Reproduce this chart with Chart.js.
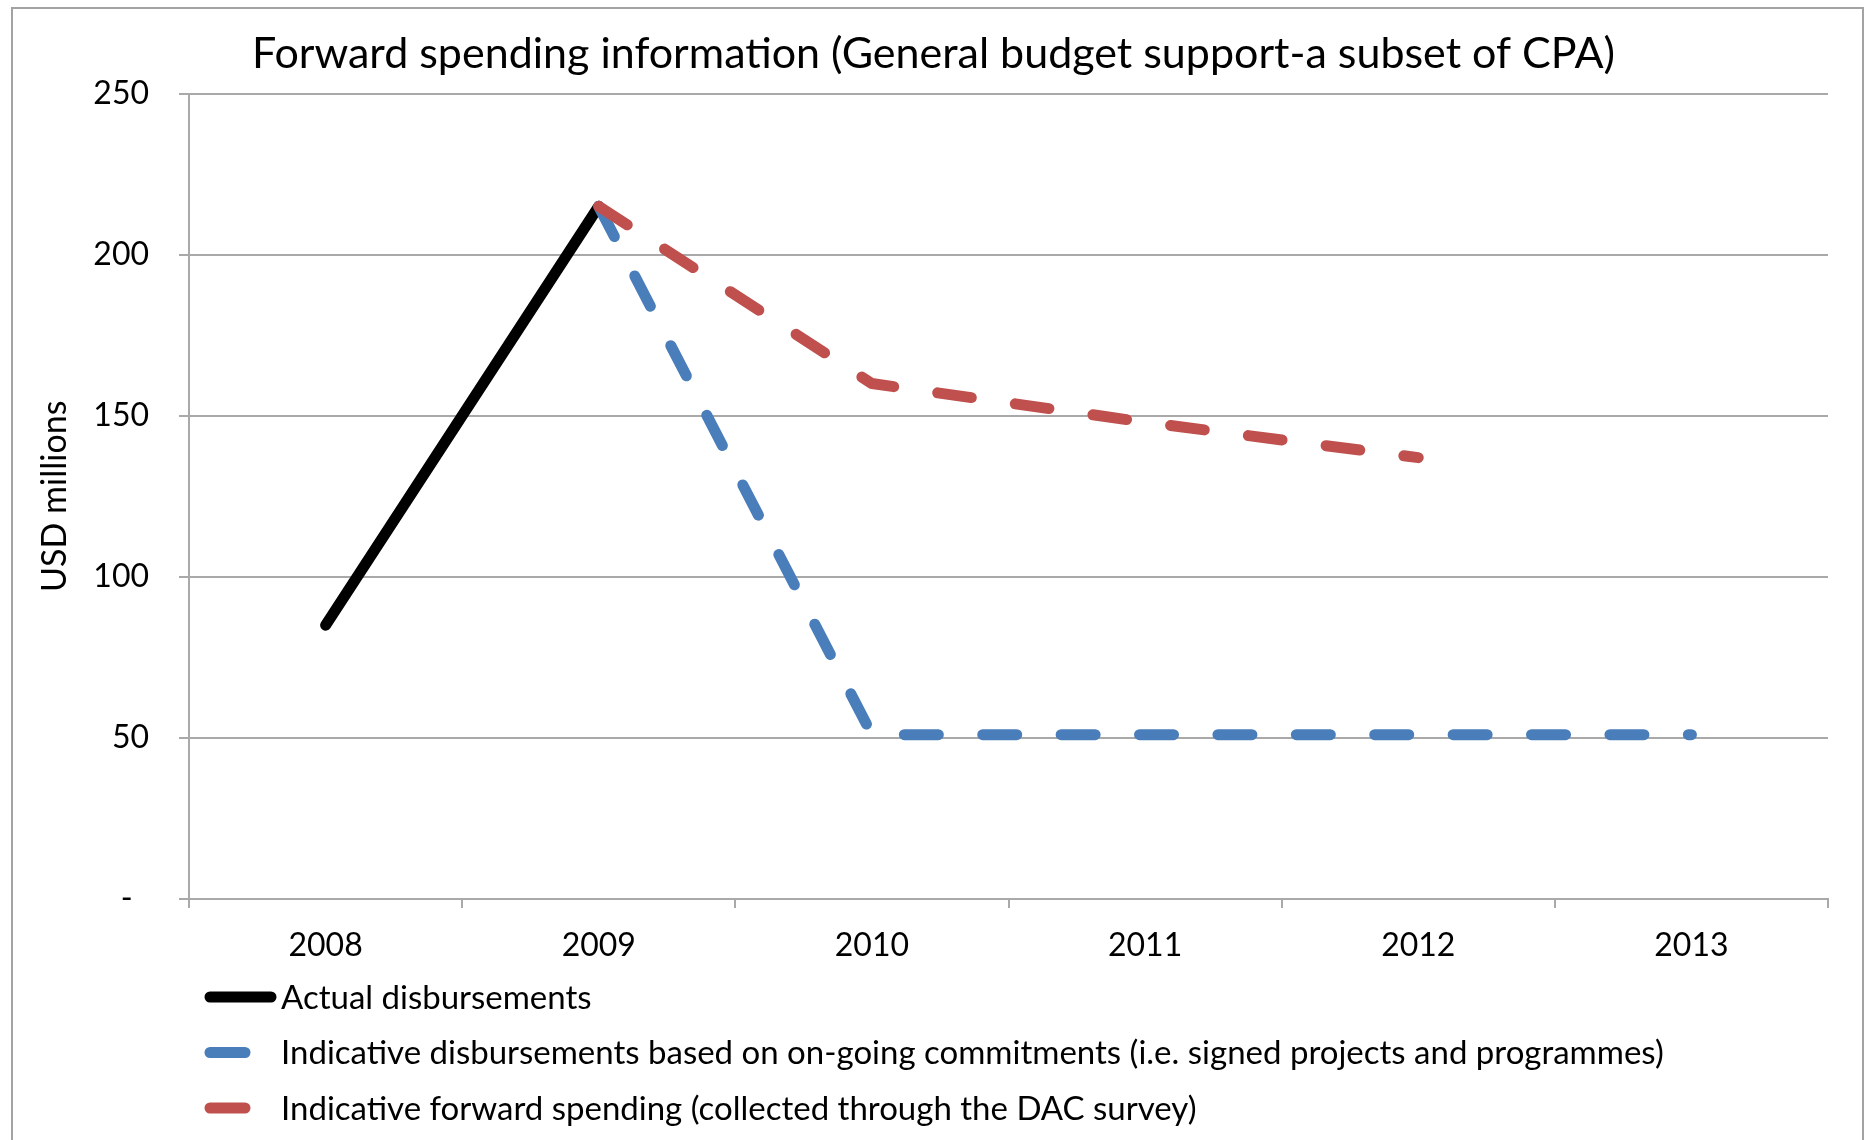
<!DOCTYPE html>
<html>
<head>
<meta charset="utf-8">
<title>Forward spending information</title>
<script src="https://cdn.jsdelivr.net/npm/chart.js@4/dist/chart.umd.min.js"></script>
<style>
  html, body { margin: 0; padding: 0; background: #ffffff; }
  #wrap { width: 1867px; height: 1140px; position: relative; }
</style>
</head>
<body>
<div id="wrap"><canvas id="chart" width="1867" height="1140"></canvas></div>
<script>
// Years on the category axis
const years = ['2008', '2009', '2010', '2011', '2012', '2013'];

// Series values, USD millions
const actualDisbursements = [85, 215, null, null, null, null];
const ongoingCommitments  = [null, 215, 51, 51, 51, 51];
const forwardSpending     = [null, 215, 160, 148, 137, null];

// Series names
const seriesNames = [
  'Actual disbursements',
  'Indicative disbursements based on on-going commitments (i.e. signed projects and programmes)',
  'Indicative forward spending (collected through the DAC survey)'
];

// Value axis ticks; zero is written as a dash (accounting style, padded on the right)
const yTicks = [0, 50, 100, 150, 200, 250];
const yZeroLabel = '-  ';

const FONT = 'Lato, "Open Sans", sans-serif';
const GRID = '#a9a9a9';

// White page with a thin grey frame around the whole chart
const frame = {
  id: 'frame',
  beforeDraw(chart) {
    const ctx = chart.ctx;
    ctx.save();
    ctx.fillStyle = '#ffffff';
    ctx.fillRect(0, 0, chart.width, chart.height);
    ctx.strokeStyle = '#a3a3a3';
    ctx.lineWidth = 2;
    ctx.strokeRect(12, 8, 1851, 1160);
    ctx.restore();
  }
};

// Stacked legend rows under the axis: a line sample followed by the series name
const legendRows = {
  id: 'legendRows',
  afterDraw(chart, args, opts) {
    const ctx = chart.ctx;
    ctx.save();
    ctx.font = opts.font;
    ctx.textBaseline = 'middle';
    ctx.textAlign = 'left';
    chart.data.datasets.forEach((ds, i) => {
      const y = opts.top + i * opts.rowGap;
      const len = ds.borderDash && ds.borderDash.length ? opts.shortSample : opts.longSample;
      ctx.beginPath();
      ctx.setLineDash([]);
      ctx.lineCap = 'round';
      ctx.lineWidth = ds.borderWidth;
      ctx.strokeStyle = ds.borderColor;
      ctx.moveTo(opts.sampleX, y);
      ctx.lineTo(opts.sampleX + len, y);
      ctx.stroke();
      ctx.fillStyle = '#000000';
      ctx.fillText(ds.label, opts.textX, y + 1);
    });
    ctx.restore();
  }
};

new Chart(document.getElementById('chart'), {
  type: 'line',
  data: {
    labels: years,
    datasets: [
      {
        label: seriesNames[0],
        data: actualDisbursements,
        borderColor: '#000000',
        borderWidth: 11,
        borderCapStyle: 'round',
        borderJoinStyle: 'round',
        pointRadius: 0,
        tension: 0,
        order: 2
      },
      {
        label: seriesNames[1],
        data: ongoingCommitments,
        borderColor: '#4a7ebb',
        borderWidth: 11,
        borderDash: [34, 44.4],
        borderCapStyle: 'round',
        borderJoinStyle: 'round',
        pointRadius: 0,
        tension: 0,
        order: 1
      },
      {
        label: seriesNames[2],
        data: forwardSpending,
        borderColor: '#c0504d',
        borderWidth: 11,
        borderDash: [34, 44.4],
        borderCapStyle: 'round',
        borderJoinStyle: 'round',
        pointRadius: 0,
        tension: 0,
        order: 0
      }
    ]
  },
  options: {
    responsive: false,
    animation: false,
    events: [],
    layout: { padding: { left: 0, right: 0, top: 0, bottom: 181 } },
    plugins: {
      legend: { display: false },
      tooltip: { enabled: false },
      title: {
        display: true,
        text: 'Forward spending information (General budget support-a subset of CPA)',
        color: '#000000',
        font: { family: FONT, size: 43, weight: 'normal' },
        padding: { top: 28, bottom: 14 }
      },
      legendRows: {
        top: 997,
        rowGap: 55.5,
        sampleX: 210,
        longSample: 61,
        shortSample: 35,
        textX: 281,
        font: '33px ' + FONT
      }
    },
    scales: {
      x: {
        type: 'category',
        offset: true,
        afterFit(scale) { scale.height = 60; },
        grid: {
          offset: true,
          drawOnChartArea: false,
          drawTicks: true,
          tickLength: 9,
          color: GRID,
          lineWidth: 2
        },
        border: { display: true, color: GRID, width: 2 },
        ticks: {
          color: '#000000',
          padding: 18,
          maxRotation: 0,
          font: { family: FONT, size: 32 }
        }
      },
      y: {
        min: 0,
        max: 250,
        afterFit(scale) { scale.width = 189; },
        afterBuildTicks(scale) { scale.ticks = yTicks.map(v => ({ value: v })); },
        grid: { color: GRID, lineWidth: 2, drawTicks: true, tickLength: 10 },
        border: { display: true, color: GRID, width: 2 },
        title: {
          display: true,
          text: 'USD millions',
          color: '#000000',
          font: { family: FONT, size: 34 },
          padding: { top: 35, bottom: 0 }
        },
        ticks: {
          color: '#000000',
          padding: 30,
          font: { family: FONT, size: 32 },
          callback: (v) => (v === 0 ? yZeroLabel : String(v))
        }
      },
      // empty margin on the right of the plot
      yMargin: {
        position: 'right',
        display: true,
        afterFit(scale) { scale.width = 39; },
        grid: { display: false, drawTicks: false },
        border: { display: false },
        ticks: { display: false }
      }
    }
  },
  plugins: [frame, legendRows]
});
</script>
</body>
</html>
